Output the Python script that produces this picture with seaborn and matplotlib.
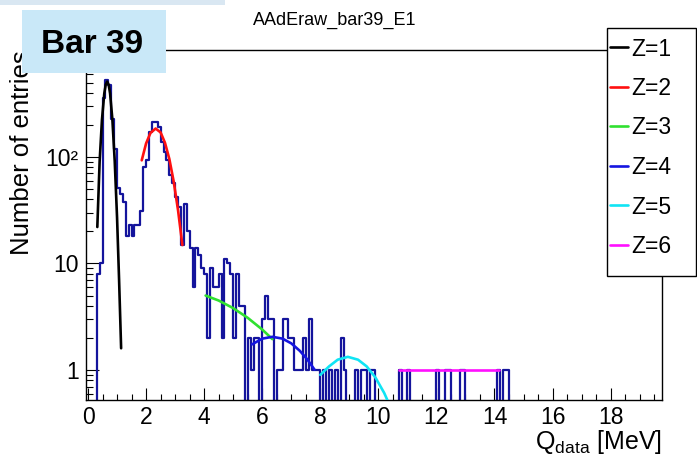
import numpy as np
import pandas as pd
import matplotlib
matplotlib.use("Agg")
import matplotlib.pyplot as plt
import seaborn as sns
from matplotlib.patches import Rectangle
from matplotlib.ticker import FixedLocator, MultipleLocator, NullFormatter

# ---------------- data ----------------
bin_width = 0.1
# counts per 0.1 MeV bin, starting at Q = 0.0
counts_0_to_15 = [
    0, 0, 0, 8, 10, 355, 530, 470, 225, 118,        # 0.0 - 0.9
    51, 45, 38, 18, 23, 18, 23, 23, 31, 80,         # 1.0 - 1.9
    93, 172, 215, 212, 190, 138, 112, 93, 68, 57,   # 2.0 - 2.9
    42, 34, 15, 36, 20, 14, 6, 14, 12, 9,           # 3.0 - 3.9
    8, 2, 9, 6, 6, 8, 2, 11, 10, 8,                 # 4.0 - 4.9
    2, 8, 4, 4, 0, 2, 1, 2, 2, 0,                   # 5.0 - 5.9
    3, 5, 3, 3, 0, 1, 1, 3, 3, 2,                   # 6.0 - 6.9
    2, 1, 1, 1, 2, 1, 3, 1, 1, 1,                   # 7.0 - 7.9
    0, 1, 0, 1, 0, 1, 0, 2, 1, 0,                   # 8.0 - 8.9
    0, 0, 1, 0, 1, 1, 0, 1, 1, 0,                   # 9.0 - 9.9
    0, 0, 0, 0, 0, 0, 0, 1, 0, 0,                   # 10.0 - 10.9
    1, 0, 0, 0, 0, 0, 0, 0, 0, 0,                   # 11.0 - 11.9
    1, 0, 0, 1, 1, 0, 0, 0, 1, 1,                   # 12.0 - 12.9
    0, 0, 0, 0, 0, 0, 0, 0, 0, 0,                   # 13.0 - 13.9
    0, 1, 0, 1, 1, 0, 0, 0, 0, 0,                   # 14.0 - 14.9
]
n_bins_total = 197  # histogram range 0 - 19.7 MeV, empty above 14.5

# fit curves
z1_x = [0.32, 0.40, 0.48, 0.56, 0.61, 0.66, 0.71, 0.76, 0.84, 0.92, 1.00, 1.07, 1.14]
z1_y = [22, 91, 223, 395, 478, 510, 478, 395, 223, 91, 27, 7.0, 1.6]
z2_x = [1.85, 2.00, 2.15, 2.33, 2.50, 2.65, 2.80, 2.95, 3.10, 3.25]
z2_y = [93, 134, 168, 185, 170, 136, 96, 59, 31.7, 14.9]
z3_x = [4.05, 4.50, 5.00, 5.50, 6.00, 6.35]
z3_y = [5.0, 4.49, 3.81, 3.09, 2.40, 1.95]
z4_x = [5.65, 6.00, 6.35, 6.70, 7.00, 7.30, 7.55, 7.80]
z4_y = [1.74, 1.97, 2.05, 1.97, 1.78, 1.51, 1.26, 1.01]
z5_x = [8.00, 8.30, 8.60, 8.95, 9.30, 9.60, 9.90, 10.20, 10.50]
z5_y = [0.90, 1.08, 1.25, 1.33, 1.25, 1.08, 0.85, 0.61, 0.40]
z6_x = [10.72, 14.17]
z6_y = [1.0, 1.0]

fit_labels = ["Z=1", "Z=2", "Z=3", "Z=4", "Z=5", "Z=6"]
fit_colors = ["#000000", "#ff1010", "#30e030", "#1515e0", "#10e4f4", "#ff10ff"]

x_ticks = [0, 2, 4, 6, 8, 10, 12, 14, 16, 18]
y_ticks = [1, 10, 100]
y_tick_labels = ["1", "10", "10\u00b2"]

# ---------------- style ----------------
sns.set_style("white")
plt.rcParams["font.family"] = ["Liberation Sans", "DejaVu Sans"]
plt.rcParams["mathtext.fontset"] = "custom"
plt.rcParams["mathtext.rm"] = "Liberation Sans"
plt.rcParams["mathtext.it"] = "Liberation Sans:italic"
plt.rcParams["mathtext.bf"] = "Liberation Sans:bold"
for key in ["text.color", "axes.labelcolor", "xtick.color", "ytick.color",
            "xtick.labelcolor", "ytick.labelcolor"]:
    plt.rcParams[key] = "black"

W, H = 697, 466
fig = plt.figure(figsize=(W / 100, H / 100), dpi=100)
fig.patch.set_facecolor("white")
ax_l, ax_r, ax_t, ax_b = 85.7, 662.0, 50.0, 400.0
ax = fig.add_axes([ax_l / W, 1 - ax_b / H, (ax_r - ax_l) / W, (ax_b - ax_t) / H])

# histogram
counts = np.array(counts_0_to_15 + [0] * (n_bins_total - len(counts_0_to_15)), dtype=float)
edges = [round(i * bin_width, 3) for i in range(n_bins_total + 1)]
centers = [e + bin_width / 2 for e in edges[:-1]]
hist_df = pd.DataFrame({"Q": centers, "n": counts})
sns.histplot(data=hist_df, x="Q", weights="n", bins=edges, element="step",
             fill=False, color="#14149c", linewidth=1.6, ax=ax, zorder=2)

# fit curves
fit_xs = [z1_x, z2_x, z3_x, z4_x, z5_x, z6_x]
fit_ys = [z1_y, z2_y, z3_y, z4_y, z5_y, z6_y]
handles = []
for fx, fy, lab, col in zip(fit_xs, fit_ys, fit_labels, fit_colors):
    d = pd.DataFrame({"x": fx, "y": fy})
    sns.lineplot(data=d, x="x", y="y", color=col, linewidth=1.9, ax=ax,
                 sort=False, zorder=3, label=lab)
    handles.append(ax.lines[-1])
if ax.get_legend() is not None:
    ax.get_legend().remove()

ax.set_yscale("log")
ax.set_xlim(-0.08, 19.77)
ax.set_ylim(0.523, 1010)
ax.set_xlabel("")
ax.set_ylabel("")

# ticks ROOT-like
ax.xaxis.set_major_locator(FixedLocator(x_ticks))
ax.xaxis.set_minor_locator(MultipleLocator(0.5))
ax.set_xticklabels([str(t) for t in x_ticks])
ax.yaxis.set_major_locator(FixedLocator(y_ticks))
ax.set_yticklabels(y_tick_labels)
minor_y = [m * 10 ** e for e in range(-1, 3) for m in range(2, 10) if 0.523 < m * 10 ** e < 1010]
ax.yaxis.set_minor_locator(FixedLocator(minor_y))
ax.yaxis.set_minor_formatter(NullFormatter())
ax.tick_params(axis="x", which="major", direction="in", length=8.5, width=0.8,
               labelsize=16.5, pad=4.0, bottom=True, top=False, color="black",
               labelcolor="black")
ax.tick_params(axis="x", which="minor", direction="in", length=4.3, width=0.8,
               bottom=True, top=False, color="black")
ax.tick_params(axis="y", which="major", direction="in", length=9.5, width=0.8,
               labelsize=16.5, pad=5, left=True, right=False, color="black",
               labelcolor="black")
ax.tick_params(axis="y", which="minor", direction="in", length=5, width=0.8,
               left=True, right=False, color="black")
for s in ax.spines.values():
    s.set_color("black")
    s.set_linewidth(1.0)
    s.set_visible(True)

# axis titles
fig.text(ax_r / W, 1 - 449 / H, r"Q$_{\mathrm{data}}$ [MeV]", ha="right",
         va="baseline", fontsize=18, color="black")
fig.text(22 / W, 1 - ax_t / H, "Number of entries", rotation=90, ha="center",
         va="top", fontsize=18.5, zorder=3, color="black")

# title
fig.text(253 / W, 1 - 25 / H, "AAdEraw_bar39_E1", ha="left", va="baseline",
         fontsize=13, color="black")

# pale slide band and "Bar 39" box
fig.patches.append(Rectangle((0, 1 - 4.5 / H), 225 / W, 4.5 / H, transform=fig.transFigure,
                             facecolor="#d9e7f2", edgecolor="none", zorder=4))
fig.patches.append(Rectangle((22 / W, 1 - 73 / H), 144 / W, 63 / H, transform=fig.transFigure,
                             facecolor="#c9e8f8", edgecolor="none", zorder=4))
fig.text(92 / W, 1 - 53 / H, "Bar 39", ha="center", va="baseline", fontsize=24,
         fontweight="bold", zorder=5, color="black")

# legend frame + legend
fig.patches.append(Rectangle((607 / W, 1 - 276 / H), 89 / W, 248 / H, transform=fig.transFigure,
                             facecolor="white", edgecolor="black", linewidth=1.0, zorder=4))
leg = fig.legend(handles=handles, labels=fit_labels, loc="upper left",
                 bbox_to_anchor=(610 / W, 1 - 37.5 / H), bbox_transform=fig.transFigure,
                 frameon=False, fontsize=16.5, handlelength=0.8, handletextpad=0.12,
                 borderpad=0, borderaxespad=0, labelspacing=0.72, labelcolor="black")
leg.set_zorder(6)

fig.savefig("out.png", dpi=100)
